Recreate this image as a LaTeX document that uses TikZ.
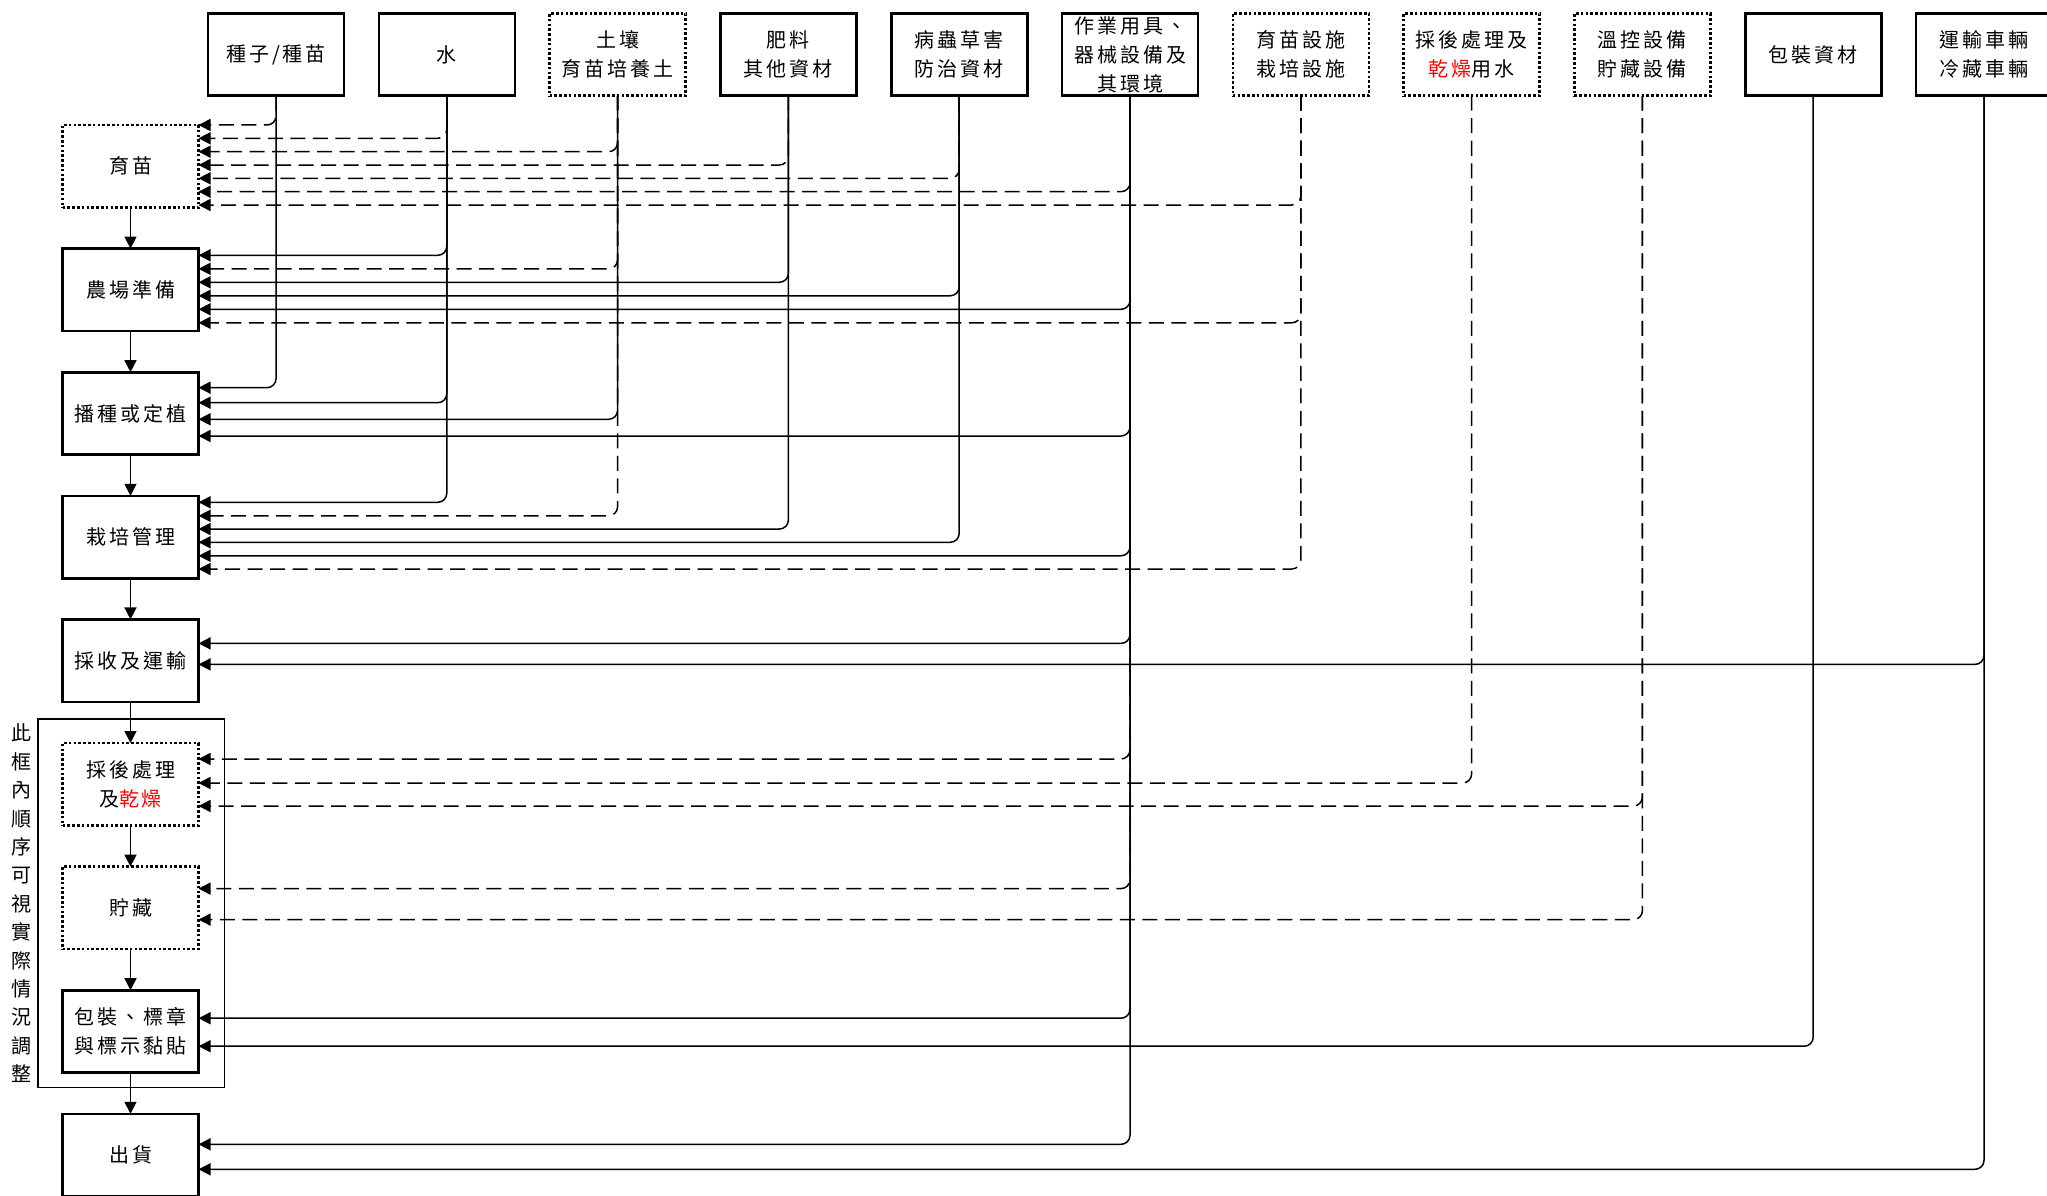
\documentclass[tikz,border=0pt]{standalone}
\usepackage{fontspec}
\setmainfont{Noto Sans CJK TC}[LetterSpace=15]
\usetikzlibrary{positioning,arrows.meta,fit}

\tikzset{
	box/.style={draw, line width=2.6pt, minimum width=136pt, minimum height=82.5pt,
		inner sep=0pt, outer sep=0pt, align=center, font=\fontsize{20}{29}\selectfont},
	dbox/.style={box, dash pattern=on 2.6pt off 2.2pt},
	tip/.style={line width=1.5pt, -{Triangle[length=12pt,width=12pt]}},
	flow/.style={every edge/.style={draw, tip}},
	feed/.style={every edge/.style={draw, tip, rounded corners=9pt, to path={|- (\tikztotarget)}}},
	dfeed/.style={every edge/.style={draw, tip, rounded corners=9pt, dash pattern=on 15pt off 7.5pt,
		to path={|- (\tikztotarget)}}},
	frame/.style={draw, line width=1.5pt, inner sep=0pt},
}

\begin{document}
\begin{tikzpicture}[x=1pt, y=1pt, node distance=41.1pt and 34.8pt]
	\useasboundingbox (0,0) rectangle (2047,-1196);

	% inputs
	\node[box] (seed) at (276,-54.5) {種子/種苗};
	\node[box, right = of seed] (water) {水};
	\node[dbox, right = of water] (soil) {土壤\\育苗培養土};
	\node[box, right = of soil] (fert) {肥料\\其他資材};
	\node[box, right = of fert] (pest) {病蟲草害\\防治資材};
	\node[box, right = of pest] (tool) {作業用具、\\器械設備及\\其環境};
	\node[dbox, right = of tool] (fac) {育苗設施\\栽培設施};
	\node[dbox, right = of fac] (dryw) {採後處理及\\\textcolor{red}{乾燥}用水};
	\node[dbox, right = of dryw] (cool) {溫控設備\\貯藏設備};
	\node[box, right = of cool] (packm) {包裝資材};
	\node[box, right = of packm] (truck) {運輸車輛\\冷藏車輛};

	% steps
	\node[dbox] (nurse) at (130.5,-166.25) {育苗};
	\node[box, below = of nurse] (prep) {農場準備};
	\node[box, below = of prep] (sow) {播種或定植};
	\node[box, below = of sow] (grow) {栽培管理};
	\node[box, below = of grow] (harv) {採收及運輸};
	\node[dbox, below = of harv] (post) {採後處理\\及\textcolor{red}{乾燥}};
	\node[dbox, below = of post] (store) {貯藏};
	\node[box, below = of store] (pack) {包裝、標章\\與標示黏貼};
	\node[box, below = of pack] (ship) {出貨};

	\node[frame, fit={([shift={(-24.5,24)}]post.north west) ([shift={(26,-15)}]pack.south east)}] (frame) {};
	\node[left = 6pt of frame, align=center, inner sep=0pt, font=\fontsize{20}{28.4}\selectfont] (note)
		{此\\框\\內\\順\\序\\可\\視\\實\\際\\情\\況\\調\\整};

	\path[flow] (nurse) edge (prep) (prep) edge (sow) (sow) edge (grow) (grow) edge (harv)
		(harv) edge (post) (post) edge (store) (store) edge (pack) (pack) edge (ship);

	% dashed supplies
	\path[dfeed] (seed.south) edge (nurse.north east);
	\path[dfeed] (water.south) edge ([yshift=-13.3pt]nurse.north east);
	\path[dfeed] (soil.south) edge ([yshift=-26.7pt]nurse.north east)
		edge ([yshift=-20.2pt]prep.north east) edge ([yshift=-20pt]grow.north east);
	\path[dfeed] (fert.south) edge ([yshift=-40pt]nurse.north east);
	\path[dfeed] (pest.south) edge ([yshift=-53.3pt]nurse.north east);
	\path[dfeed] (tool.south) edge ([yshift=-66.7pt]nurse.north east)
		edge ([yshift=-16pt]post.north east) edge ([yshift=-22pt]store.north east);
	\path[dfeed] (fac.south) edge ([yshift=-80pt]nurse.north east)
		edge ([yshift=-74.2pt]prep.north east) edge ([yshift=-73.2pt]grow.north east);
	\path[dfeed] (dryw.south) edge ([yshift=-40pt]post.north east);
	\path[dfeed] (cool.south) edge ([yshift=-63pt]post.north east) edge ([yshift=-53pt]store.north east);

	% solid supplies
	\path[feed] (seed.south) edge ([yshift=-15.5pt]sow.north east);
	\path[feed] (water.south) edge ([yshift=-6.7pt]prep.north east)
		edge ([yshift=-30.5pt]sow.north east) edge ([yshift=-6.5pt]grow.north east);
	\path[feed] (soil.south) edge ([yshift=-47.1pt]sow.north east);
	\path[feed] (fert.south) edge ([yshift=-33.7pt]prep.north east) edge ([yshift=-33.2pt]grow.north east);
	\path[feed] (pest.south) edge ([yshift=-47.2pt]prep.north east) edge ([yshift=-46.5pt]grow.north east);
	\path[feed] (tool.south) edge ([yshift=-60.7pt]prep.north east) edge ([yshift=-63.8pt]sow.north east)
		edge ([yshift=-60pt]grow.north east) edge ([yshift=-24pt]harv.north east)
		edge ([yshift=-28pt]pack.north east) edge ([yshift=-30.5pt]ship.north east);
	\path[feed] (packm.south) edge ([yshift=-56pt]pack.north east);
	\path[feed] (truck.south) edge ([yshift=-45pt]harv.north east) edge ([yshift=-55.5pt]ship.north east);
\end{tikzpicture}
\end{document}
